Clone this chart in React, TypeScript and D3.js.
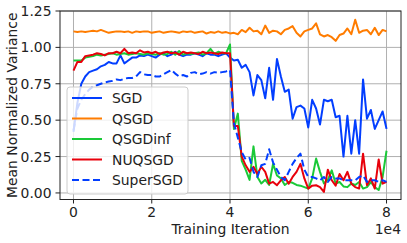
import React from 'react'
import * as d3 from 'd3'

// iterations in units of 1e4, one point every 1000 iterations
const iterations = d3.range(0, 81).map((i) => i / 10)

const sgd = [
  0.42, 0.62, 0.75, 0.8, 0.83, 0.84, 0.85, 0.87, 0.88, 0.9,
  0.89, 0.89, 0.945, 0.89, 0.91, 0.93, 0.93, 0.945, 0.94, 0.95,
  0.94, 0.93, 0.95, 0.96, 0.94, 0.95, 0.97, 0.95, 0.94, 0.95,
  0.95, 0.96, 0.95, 0.94, 0.96, 0.95, 0.95, 0.94, 0.95, 0.96,
  0.93, 0.91, 0.915, 0.86, 0.88, 0.83, 0.67, 0.81, 0.775, 0.65,
  0.86, 0.64, 0.92, 0.8, 0.695, 0.71, 0.51, 0.59, 0.6, 0.58,
  0.45, 0.64, 0.58, 0.47, 0.64, 0.63, 0.64, 0.52, 0.53, 0.25,
  0.53, 0.27, 0.5, 0.27, 0.78, 0.51, 0.57, 0.44, 0.5, 0.56,
  0.44,
]

const qsgd = [
  1.11, 1.105, 1.11, 1.105, 1.11, 1.115, 1.11, 1.12, 1.11, 1.1,
  1.105, 1.11, 1.11, 1.105, 1.11, 1.1, 1.11, 1.105, 1.11, 1.11,
  1.1, 1.105, 1.11, 1.1, 1.105, 1.11, 1.105, 1.1, 1.11, 1.105,
  1.11, 1.1, 1.105, 1.11, 1.095, 1.105, 1.1, 1.11, 1.1, 1.105,
  1.096, 1.1, 1.09, 1.12, 1.105, 1.135, 1.11, 1.115, 1.09, 1.15,
  1.1, 1.115, 1.11, 1.09, 1.12, 1.13, 1.146, 1.1, 1.075, 1.11,
  1.12, 1.13, 1.165, 1.09, 1.075, 1.085, 1.07, 1.045, 1.085, 1.095,
  1.13, 1.09, 1.19, 1.1, 1.115, 1.12, 1.09, 1.135, 1.085, 1.12,
  1.11,
]

const qsgdInf = [
  0.91, 0.91, 0.91, 0.93, 0.935, 0.94, 0.95, 0.945, 0.95, 0.955,
  0.96, 0.95, 0.955, 0.96, 0.95, 0.955, 0.96, 0.955, 0.95, 0.96,
  0.955, 0.95, 0.96, 0.95, 0.955, 0.97, 0.95, 0.975, 0.95, 0.96,
  0.955, 0.96, 0.965, 0.95, 0.96, 0.99, 0.955, 0.97, 0.96, 0.96,
  1.02, 0.44, 0.545, 0.22, 0.16, 0.09, 0.32, 0.11, 0.065, 0.09,
  0.055, 0.2, 0.12, 0.1, 0.055, 0.075, 0.07, 0.055, 0.05, 0.04,
  0.03, 0.1, 0.236, 0.145, 0.065, 0.09, 0.155, 0.065, 0.075, 0.045,
  0.04, 0.065, 0.055, 0.075, 0.03, 0.04, 0.075, 0.04, 0.02, 0.11,
  0.29,
]

const nuqsgd = [
  0.84, 0.9, 0.9, 0.94, 0.945, 0.95, 0.96, 0.955, 0.945, 0.96,
  0.96, 0.97, 0.96, 0.99, 0.96, 0.965, 0.96, 0.98, 0.965, 0.97,
  0.96, 0.97, 0.955, 0.965, 0.97, 0.96, 0.965, 0.95, 0.97, 0.96,
  0.965, 0.96, 0.955, 0.97, 0.96, 0.965, 0.96, 0.955, 0.965, 0.96,
  0.96, 0.46, 0.46, 0.25, 0.19, 0.145, 0.18, 0.13, 0.18, 0.145,
  0.064, 0.076, 0.053, 0.087, 0.11, 0.064, 0.11, 0.145, 0.2, 0.1,
  0.03, 0.05, 0.053, 0.04, 0.007, 0.16, 0.087, 0.05, 0.13, 0.087,
  0.145, 0.064, 0.04, 0.03, 0.27, 0.053, 0.1, 0.03, 0.23, 0.064,
  0.076,
]

const superSgd = [
  0.43, 0.58, 0.64, 0.68, 0.71, 0.73, 0.74, 0.75, 0.76, 0.765,
  0.77, 0.78, 0.775, 0.785, 0.79, 0.79, 0.8, 0.83, 0.815, 0.81,
  0.81, 0.8, 0.8, 0.815, 0.83, 0.845, 0.82, 0.8, 0.81, 0.8,
  0.825, 0.83, 0.815, 0.82, 0.83, 0.82, 0.83, 0.825, 0.83, 0.835,
  0.845, 0.48, 0.38, 0.28, 0.23, 0.24, 0.145, 0.11, 0.19, 0.2,
  0.3, 0.21, 0.16, 0.11, 0.087, 0.145, 0.2, 0.24, 0.27, 0.16,
  0.11, 0.11, 0.1, 0.087, 0.11, 0.076, 0.11, 0.1, 0.1, 0.087,
  0.087, 0.087, 0.087, 0.11, 0.12, 0.076, 0.087, 0.087, 0.076, 0.087,
  0.076,
]

const xTicks = [0, 2, 4, 6, 8]
const yTicks = [0, 0.25, 0.5, 0.75, 1.0, 1.25]

const series = [
  { name: 'SGD', values: sgd, color: '#023eff', dash: null },
  { name: 'QSGD', values: qsgd, color: '#ff7c00', dash: null },
  { name: 'QSGDinf', values: qsgdInf, color: '#1ac938', dash: null },
  { name: 'NUQSGD', values: nuqsgd, color: '#e8000b', dash: null },
  { name: 'SuperSGD', values: superSgd, color: '#023eff', dash: '7,3.5' },
]

const W = 407
const H = 243
const font = 'DejaVu Sans, sans-serif'
const fs = 13.9

const App = () => {
  const x = d3.scaleLinear().domain([-0.345, 8.37]).range([60, 401])
  const y = d3.scaleLinear().domain([-0.045, 1.25]).range([199.5, 11])

  const line = d3
    .line<number>()
    .x((_, i) => x(iterations[i]))
    .y((d) => y(d))

  const [x0, x1] = x.range()
  const [y0, y1] = y.range()

  // legend
  const lg = { x: 67, y: 87, w: 121, h: 107, row0: 98, step: 20.5 }

  return (
    <svg width={W} height={H} style={{ position: 'absolute', left: 0, top: 0 }} fontFamily={font}>
      <rect width={W} height={H} fill="#fff" />

      {/* grid */}
      <g stroke="#b0b0b0" strokeWidth={1}>
        {xTicks.map((t) => (
          <line key={'gx' + t} x1={x(t)} x2={x(t)} y1={y1} y2={y0} />
        ))}
        {yTicks.map((t) => (
          <line key={'gy' + t} x1={x0} x2={x1} y1={y(t)} y2={y(t)} />
        ))}
      </g>

      {/* lines */}
      {series.map((s) => (
        <path
          key={s.name}
          d={line(s.values) || ''}
          fill="none"
          stroke={s.color}
          strokeWidth={2}
          strokeDasharray={s.dash || undefined}
          strokeLinejoin="round"
        />
      ))}

      {/* spines */}
      <rect x={x0} y={y1} width={x1 - x0} height={y0 - y1} fill="none" stroke="#222" strokeWidth={1} />

      {/* ticks */}
      <g stroke="#222" strokeWidth={1}>
        {xTicks.map((t) => (
          <line key={'tx' + t} x1={x(t)} x2={x(t)} y1={y0} y2={y0 + 4} />
        ))}
        {yTicks.map((t) => (
          <line key={'ty' + t} x1={x0 - 4.5} x2={x0} y1={y(t)} y2={y(t)} />
        ))}
      </g>
      <g fontSize={fs} fill="#222">
        {xTicks.map((t) => (
          <text key={'lx' + t} x={x(t)} y={y0 + 17} textAnchor="middle">
            {t}
          </text>
        ))}
        {yTicks.map((t) => (
          <text key={'ly' + t} x={x0 - 8.5} y={y(t)} dy="0.36em" textAnchor="end">
            {d3.format('.2f')(t)}
          </text>
        ))}
        <text x={(x0 + x1) / 2} y={233.5} textAnchor="middle">
          Training Iteration
        </text>
        <text x={x1} y={233.5} textAnchor="end">
          1e4
        </text>
        <text transform={`translate(12.5,${(y0 + y1) / 2}) rotate(-90)`} dy="0.35em" textAnchor="middle">
          Mean Normalized Variance
        </text>
      </g>

      {/* legend */}
      <rect
        x={lg.x}
        y={lg.y}
        width={lg.w}
        height={lg.h}
        rx={3}
        fill="#fff"
        fillOpacity={0.8}
        stroke="#cccccc"
        strokeWidth={1}
      />
      {series.map((s, i) => {
        const cy = lg.row0 + i * lg.step
        return (
          <g key={'lg' + s.name}>
            <line
              x1={72}
              x2={102}
              y1={cy}
              y2={cy}
              stroke={s.color}
              strokeWidth={2}
              strokeDasharray={s.dash || undefined}
            />
            <text x={112} y={cy} dy="0.36em" fontSize={fs} fill="#222">
              {s.name}
            </text>
          </g>
        )
      })}
    </svg>
  )
}

export default App
